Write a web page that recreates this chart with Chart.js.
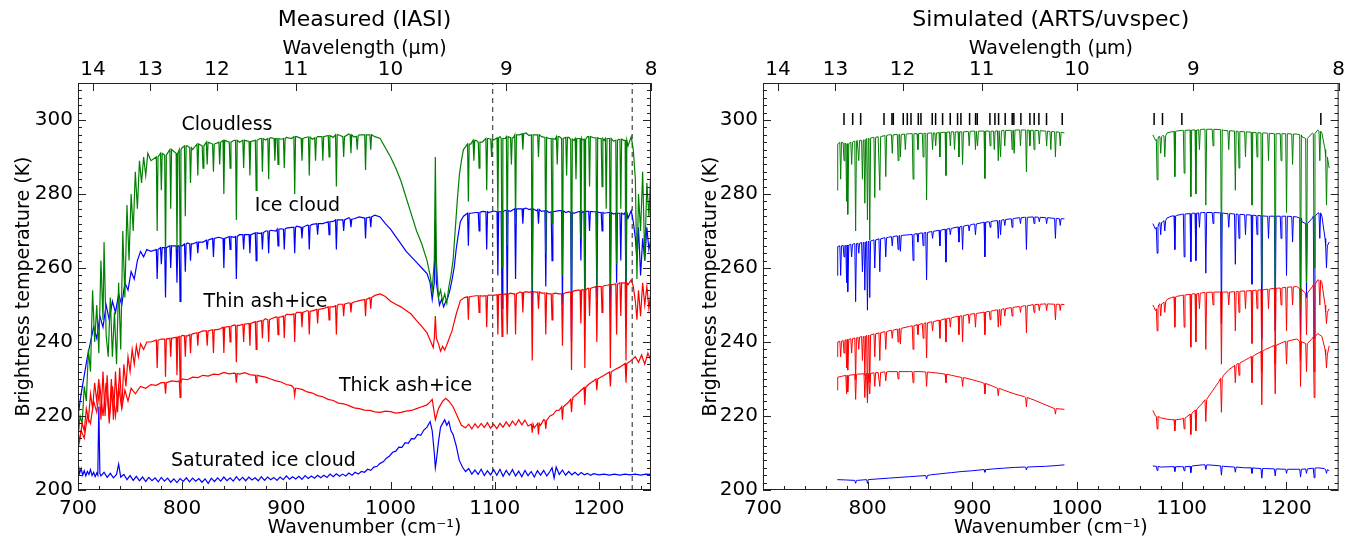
<!DOCTYPE html>
<html>
<head>
<meta charset="utf-8">
<title>Measured vs simulated brightness temperature spectra</title>
<script src="https://cdn.jsdelivr.net/npm/chart.js@4.4.1/dist/chart.umd.min.js"></script>
<style>
  body { margin: 0; background: #fff; }
  #wrap { position: relative; width: 1346px; height: 536px; }
  canvas { position: absolute; top: 0; }
  #leftChart { left: 0; }
  #rightChart { left: 690px; }
</style>
</head>
<body>
<div id="wrap">
  <canvas id="leftChart" width="690" height="536"></canvas>
  <canvas id="rightChart" width="656" height="536"></canvas>
</div>
<script>
// axis ticks
const wavenumberTicks = [700, 800, 900, 1000, 1100, 1200];
const wavelengthTicks = [14, 13, 12, 11, 10, 9, 8];
const temperatureTicks = [200, 220, 240, 260, 280, 300];

// ---------- measured (IASI) ----------
// continuum points [wavenumber, K] and absorption lines [wavenumber, top K, bottom K]
const iasiCloudless = [
  [700,214],[702,220],[704,218],[706,228],[708,224],[710,238],[712,232],[714,254],[716,240],[718,250],[720,237],[722,262],[724,246],[725,267],[727,242],[729,236],[731,252],[733,236],[735,248],[737,234],[739,256],[741,238],[743,270],[745,252],[747,277],[749,262],[751,280],[753,270],[755,286],[757,276],[759,289],[761,283],[763,290],[765,285],[767,291],[770,289],
  [775,290],[780,291.5],[785,290.5],[790,292],[795,291],[800,292.5],[805,293],[810,292],[815,293.5],[820,293],[825,294],[830,293.5],[835,294],[840,294.5],[845,293.8],[850,294.5],[855,294],[860,294.8],[865,294.2],[870,294.5],[875,295],[880,294.6],[885,295.2],[890,295],[895,294.8],[900,295.3],[905,295],[910,295.5],[915,295],[920,295.4],[925,294.8],[930,295.5],[935,295.2],[940,295.8],[945,295.3],[950,296],[955,295.5],[960,296.2],[965,295.4],[970,296],[975,295.8],[980,296.2],[985,295.5],[990,295],[995,292.5],
  [1000,290],[1005,287],[1010,283.5],[1015,279],[1020,274.5],[1025,270],[1030,266.5],[1035,262],[1038,258],[1040,254],[1042,262],[1043,290],[1044,262],[1046,252],[1048,254],[1050,251],[1052,253],[1054,250.5],[1056,255],[1058,258],[1060,262],[1062,270],[1064,278],[1066,285],[1068,289],[1070,292],
  [1077,293.5],[1082,294.5],[1088,294],[1094,295],[1099,294.6],[1105,295.5],[1110,295],[1115,295.5],[1118,295.2],[1124,296],[1130,296.5],[1133,295.8],[1140,296],[1145,295.5],[1152,295],[1158,294.8],[1162,295.5],[1168,295],[1171,295.3],[1176,294.5],[1180,295],[1184,294.6],[1189,295.5],[1195,295.2],[1200,295],[1205,294.5],[1209,295],[1214,294.3],[1219,294.8],[1224,294.5],[1228,293],[1231,295.5],[1233,292],[1235,284],[1236.5,257],[1238,280],[1240,270],[1242,286],[1244,262],[1246,283],[1248,274],[1250,287]
];
const iasiCloudlessLines = [
  [776,290,270],[780,291,281],[784,290.5,262],[789,292,276],[795,291,265],[798,292,266],[803,293,274],[808,292.5,283],[815,293.5,285],[820,293,287],[824,294,288],[830,293.5,286],[836,294,288],[840,294.5,280],[846,294,287],[852,294.5,273],[859,294.5,287],[865,294.2,285],[871,294.5,281],[877,295,286],[883,295,284],[889,295,289],[892,295,288],[898,295,287],[908,295.5,280],[915,295,289],[922,295.4,285],[928,295.2,289],[935,295.5,289],[941,295.8,290],[948,296,282],[955,295.5,290],[962,296,291],[968,295.6,292],[976,296,286.5],[981,296,292],
  [1074.7,293.5,278],[1080,294.5,289],[1085,294,287],[1092.3,295,281],[1097,294.8,290],[1103,295.2,275],[1107,295,260],[1112,295.5,266],[1116,295.2,288],[1120,296,272],[1127,296.3,292],[1136,296,254],[1142,296,290],[1149,295.3,264],[1155,295,272],[1160,295.5,288],[1165,295,258],[1169,295.3,285],[1173.7,294.8,252],[1178,295,284],[1182.7,295,268],[1186.5,294.8,251],[1191,295.5,282],[1198,295.2,255],[1203,295,282],[1207,295,276],[1211,295,255],[1217,294.5,261],[1221,294.8,276],[1226,294.5,250]
];
const iasiIceCloud = [
  [700,220],[703,226],[706,231],[709,236],[712,240],[715,244],[718,241],[721,247],[724,244],[727,250],[730,246],[733,251],[736,248],[739,253],[742,250],[745,256],[748,254],[751,259],[754,257],[757,262],[760,264.5],[763,263],[766,265],[770,264.5],
  [775,265.5],[780,265],[785,266],[790,265.5],[795,266.3],[800,266],[805,266.8],[810,266.5],[815,267.2],[820,267],[825,267.5],[830,267.8],[835,268.3],[840,268],[845,268.5],[850,268.3],[855,269],[860,268.8],[865,269.3],[870,269.5],[875,269.3],[880,270],[885,270.2],[890,270],[895,270.6],[900,270.8],[905,271],[910,271.3],[915,271],[920,271.6],[925,271.8],[930,272.2],[935,272],[940,272.7],[945,272.6],[950,273],[955,273.2],[960,273.6],[965,273.3],[970,273.8],[975,273.6],[980,274],[985,274.3],[990,273.8],[995,272],
  [1000,270.5],[1005,268.5],[1010,266.5],[1015,264.5],[1020,263],[1025,261.5],[1030,260],[1035,258.5],[1038,256],[1040,251.5],[1042,256],[1043,273],[1044,256],[1047,250],[1049,251.5],[1051,249.5],[1053,251],[1055,252],[1057,254],[1059,256.8],[1061,260],[1063,265],[1065,269],[1067,272.5],[1070,274],
  [1077,274.8],[1082,275],[1088,275.3],[1094,275],[1099,275.4],[1105,275.2],[1110,275.6],[1115,275.3],[1118,275.8],[1124,276],[1130,276.2],[1133,275.8],[1140,275.5],[1145,275.3],[1152,275],[1158,275.3],[1162,275.5],[1168,275],[1171,275.3],[1176,274.8],[1180,275.2],[1184,275],[1189,275.3],[1195,275.2],[1200,275],[1205,274.8],[1209,275],[1214,274.6],[1219,274.8],[1224,274.5],[1228,273.5],[1231,275.5],[1233,272.5],[1235,268],[1236.5,262],[1238,271],[1240,258],[1242,268],[1244,262],[1246,271],[1248,265],[1250,268]
];
const iasiIceCloudLines = [
  [776,265,257],[780,265.5,261],[784,265.5,252],[789,266,260],[795,266,256],[798,266,251],[803,266.5,259],[808,266.5,262],[815,267,264],[824,267.5,265],[830,268,263],[840,268,260],[846,268.5,265],[852,268.5,257],[859,269,265],[865,269,264],[871,269.5,262],[877,269.5,265],[883,270,264],[892,270.5,266],[898,270.5,265],[908,271,264],[915,271,268],[922,271.5,265],[930,272,269],[941,272.5,269],[948,273,265],[955,273,270],[962,273.2,271],[976,273.5,268],[981,273.8,271],
  [1074.7,274.8,266],[1085,275,270],[1092.3,275.2,265],[1103,275.2,258],[1107,275.2,249],[1112,275.5,250],[1120,276,257],[1127,276,272],[1136,276,248],[1142,275.8,272],[1149,275.5,255],[1155,275.2,262],[1165,275.5,250],[1173.7,275,240],[1182.7,275.3,262],[1186.5,275.3,246],[1191,275.3,270],[1198,275.2,252],[1203,275,270],[1211,275,247],[1217,274.8,256],[1221,274.8,262],[1226,275,250]
];
const iasiThinAsh = [
  [700,211],[702,214],[704,218],[706,216],[708,222],[710,219],[712,226],[714,222],[716,229],[718,224],[720,230],[722,219],[724,232],[726,220],[728,231],[730,218],[732,230],[734,219],[736,232],[738,221],[740,233],[742,222],[744,234],[746,228],[748,236],[750,232],[752,238],[754,234],[756,239],[758,236],[760,239.5],[763,238],[766,240],[770,240],
  [775,240.5],[780,240.8],[785,240.6],[790,241.2],[795,241],[800,241.8],[805,241.6],[810,242.2],[815,242.3],[820,243],[825,242.8],[830,243.5],[835,243.4],[840,244],[845,244],[850,244.6],[855,244.5],[860,245],[865,245],[870,245.6],[875,245.7],[880,246.3],[885,246.2],[890,246.8],[895,246.8],[900,247.5],[905,247.4],[910,248],[915,247.9],[920,248.5],[925,248.4],[930,249],[935,249],[940,249.6],[945,249.5],[950,250.2],[955,250.3],[960,250.6],[965,250.8],[970,251.2],[975,251.5],[980,252],[985,252.6],[990,253],[995,252.3],
  [1000,251],[1005,250.2],[1010,249.5],[1015,248.5],[1020,247.5],[1025,245.8],[1030,244.2],[1035,242.5],[1038,240.5],[1041,238.5],[1042,241],[1043,247],[1044,241],[1046,239.5],[1048,237.5],[1050,238.8],[1052,237.8],[1055,240],[1059,243],[1063,247.5],[1067,251.2],[1071,252],
  [1077,252.3],[1082,252.5],[1088,252.4],[1094,252.7],[1099,252.6],[1105,252.9],[1110,253],[1115,253.2],[1118,253],[1124,253.5],[1130,253.6],[1133,253.4],[1140,253.5],[1145,253.2],[1152,253],[1158,253.2],[1162,253],[1168,253.3],[1171,253.5],[1176,253.8],[1180,254],[1184,254.2],[1189,254.5],[1195,254.8],[1200,255],[1205,255.2],[1209,255.4],[1214,255.6],[1219,255.8],[1224,256],[1228,255.5],[1231,256.8],[1233,255],[1235,251],[1236.5,246],[1238,254],[1240,247],[1242,256],[1244,250],[1246,255],[1248,249],[1250,254]
];
const iasiThinAshLines = [
  [776,240.5,233],[784,240.8,230.6],[789,241,236],[795,241.3,231],[798,241.5,229],[803,241.7,236],[808,242,237],[815,242.5,239],[824,243,239],[830,243.3,237],[840,244,237],[846,244.2,240],[852,244.5,234.5],[859,244.8,240],[865,245,239],[871,245.5,238],[877,245.8,241],[883,246,240],[892,246.7,242],[898,247,241],[908,247.6,240],[915,248,244],[922,248.3,242],[930,248.8,245],[941,249.5,246],[948,249.8,242],[955,250.2,247],[962,250.5,248],[976,251.5,247],[981,252,249],
  [1074.7,252.2,246],[1085,252.5,248],[1092.3,252.5,244],[1103,252.8,242],[1107,252.8,241.5],[1112,252.9,242],[1120,253,242],[1127,253.4,248],[1136,253.6,235],[1142,253.5,249],[1149,253.2,242],[1155,253,246],[1165,253,239],[1173.7,253.5,232.4],[1182.7,254,245],[1186.5,254,233],[1191,254.5,247],[1198,255,240],[1203,255,248],[1211,255.5,233],[1217,255.7,242],[1221,256,247],[1226,256,235]
];
const iasiThickAsh = [
  [700,212],[703,216],[706,214],[709,220],[712,218],[715,224],[718,221],[721,228],[724,220],[727,229],[730,219],[733,228],[736,220],[739,228],[742,222],[745,227],[748,224],[751,227.5],[755,226],[760,228],[765,227.5],[770,228.5],
  [775,228.3],[780,229],[785,228.8],[790,229.5],[795,229.3],[800,230],[805,229.8],[810,230.5],[815,230.4],[820,231],[825,230.8],[830,231.3],[835,231.2],[840,231.8],[845,231.4],[850,231.6],[855,231.3],[860,231.7],[865,231.2],[870,231],[875,230.8],[880,230.5],[885,230],[890,229.5],[895,229.2],[900,228.5],[905,228.2],[910,227.5],[915,227.2],[920,226.5],[925,226.2],[930,225.5],[935,225.2],[940,224.5],[945,224.2],[950,223.5],[955,223.3],[960,222.8],[965,222.2],[970,222],[975,221.6],[980,221.5],[985,221.1],[990,221],[995,221.3],
  [1000,221.2],[1005,220.8],[1010,221],[1015,221.3],[1020,221.5],[1025,222],[1030,222.5],[1035,223],[1038,223.8],[1040,224.5],[1043,219],[1046,222],[1050,224],[1053,224.8],[1056,224],[1060,222.5],[1064,220],[1068,217.5],
  [1072,216.8],[1075,217.8],[1078,216.5],[1081,217.9],[1084,216.8],[1087,218],[1090,216.9],[1093,218.2],[1096,216.7],[1099,217.8],[1102,216.6],[1105,218],[1108,217],[1111,218.4],[1114,217.2],[1117,218.6],[1120,217.5],[1123,219],[1126,217.6],[1129,218.9],[1132,217.3],[1135,218.4],[1138,216.8],[1141,218.2],[1144,217.5],[1147,219],[1150,218.6],[1153,220],[1156,220.4],[1159,221.5],[1162,221.6],
  [1166,222.8],[1170,223.5],[1175,225],[1180,226.2],[1185,227.5],[1190,228.5],[1195,229.5],[1200,230.2],[1205,231],[1210,231.8],[1215,232.5],[1220,233.2],[1225,234],[1231,235],[1235,236],[1238,234.5],[1241,236.5],[1244,234],[1247,237],[1250,235]
];
const iasiThickAshLines = [
  [784,229,226],[798,229.5,225],[852,231.5,229],[871,231,229],[908,227.5,225.5],
  [1136,217.8,215.5],[1142,218,215],[1149,218.8,216.5],[1165,222.5,219],[1173.7,224.5,221],[1186.5,227.7,223],[1198,230,227],[1211,231.9,228],[1226,234.2,229]
];
const iasiSaturated = [
  [700,207.5],[701.5,204.5],[703,205.8],[704.5,204],[706,205.2],[707.5,203.8],[709,205],[710.5,204.2],[712,205.5],[713.5,203.9],[715,204.8],[716.5,203.6],[718,204.6],[719,204],[720,222.5],[721,204.5],
  [722,203.8],[725,204.8],[728,203.4],[731,204.5],[734,203.3],[737,204.2],[739,207],[741,203.5],[744,204.2],[747,202.8],[750,203.9],[753,202.6],[756,203.7],[759,202.5],[762,203.5],[765,202.3],[768,203.4],[771,202.5],[774,203.3],[777,202.2],[780,203.4],[783,202.4],[786,203.2],[789,202.1],[792,203],[795,202],[798,203.1],
  [801,202.3],[804,203.3],[807,202.2],[810,203.2],[813,202.4],[816,203.1],[819,202.1],[822,203],[825,201.8],[828,203.2],[831,202.3],[834,203.3],[837,202.4],[840,203.5],[843,202.5],[846,203.3],[849,202.4],[852,203.6],[855,202.6],[858,203.4],[861,202.5],[864,203.5],[867,202.7],[870,203.3],[873,202.5],[876,203.6],[879,202.6],[882,203.5],[885,202.8],[888,203.4],[891,202.6],[894,203.5],[897,202.8],
  [900,203.8],[903,202.9],[906,203.6],[909,203],[912,203.7],[915,202.9],[918,203.9],[921,203.1],[924,203.8],[927,203.2],[930,204],[933,203.3],[936,204],[939,203.4],[942,204.3],[945,203.6],[948,204.4],[951,203.7],[954,204.3],[957,203.8],[960,204.6],[963,204],[966,204.8],[969,204.3],[972,205],[975,204.8],[978,205.6],[981,205.3],[984,206.2],[987,206.4],[990,207.2],[993,207.6],[996,208.6],[999,209.2],
  [1002,210.2],[1005,210.5],[1008,211.6],[1011,211.5],[1014,212.8],[1017,212.6],[1020,213.9],[1023,213.8],[1026,215],[1029,214.8],[1032,216.2],[1035,217],[1038,218.5],[1040,216],[1042,210],[1043,206],[1044,208],[1046,213],[1048,217],[1050,218],[1052,219],[1054,217.5],[1056,218.5],[1058,216],[1060,215],[1063,212],[1066,208],[1069,206.2],
  [1072,205],[1075,205.8],[1078,204.3],[1081,205.4],[1084,204.2],[1087,205.6],[1090,203.9],[1093,205.2],[1096,204.1],[1099,205.5],[1102,204],[1105,205.6],[1108,203.7],[1111,205.3],[1114,204],[1117,205.5],[1120,203.8],[1123,205.1],[1126,203.6],[1129,205.3],[1132,203.9],[1135,205],[1138,203.5],[1141,205.2],[1144,204],[1147,205.3],[1150,203.8],[1153,205],[1155,206],[1157,203.2],[1159,206.2],
  [1162,204.2],[1165,205.4],[1168,204],[1171,205],[1174,204.1],[1177,204.8],[1180,204],[1183,204.7],[1186,204.1],[1189,204.5],[1192,204],[1195,204.4],[1200,204.1],[1205,204.3],[1210,204],[1215,204.3],[1220,204],[1225,204.3],[1230,204.1],[1235,204.3],[1240,204],[1245,204.3],[1250,204.2]
];
const iasiChannelMarks = [1098, 1232];

// ---------- simulated (ARTS/uvspec) ----------
const artsCloudless = [
  [771,281],[771.4,293.5],[775,294],[780,293.5],[785,294],[790,294.5],[795,294.5],[800,295],[805,295.3],[810,295.5],[820,296],[830,296.2],[840,296.3],[850,296.4],[860,296.5],[870,296.7],[880,296.8],[890,296.8],[900,297],[910,297],[920,297],[930,297.2],[940,297.3],[950,297.3],[960,297.2],[970,297],[980,296.8],[988,296.5],
  [1030,null],
  [1072.5,296],[1075,294.5],[1078,295.5],[1082,295.8],[1086,296.5],[1090,296.8],[1095,297],[1100,297.2],[1110,297.3],[1120,297.5],[1130,297.5],[1140,297.2],[1150,297],[1160,296.8],[1170,296.6],[1180,296.5],[1190,296.3],[1200,296.3],[1210,296.2],[1215,295.5],[1220,295],[1225,296.5],[1230,297.3],[1234,296.5],[1237,292],[1239,283],[1241,287]
];
const artsCloudlessLines = [
  [774.2,294,284],[777.4,293.8,289],[779.9,293.6,278],[781.2,293.6,274.5],[784.7,294,288],[788.5,294.3,270],[791.5,294.5,289],[795,294.5,284],[797.3,294.7,277.5],[799.8,295,273],[802,295.1,267.5],[806.8,295.3,279],[811.6,295.5,281],[817.3,295.8,284.7],[823.5,296,291],[829.1,296.1,289],[831.3,296.1,290],[836,296.2,292],[843.4,296.3,284],[848,296.3,292],[853,296.4,290],[856.3,296.4,278.4],[862,296.5,292],[865,296.5,293],[869,296.6,290],[874.8,296.7,285],[879,296.8,293],[883,296.8,292],[887.2,296.8,290],[890.7,296.8,288],[897,296.9,293],[903,297,292],[905,297,293],[912,297,284.2],[917,297,293],[921,297,292],[924.8,297.1,289],[927,297.1,290],[931,297.2,293],[938,297.2,292],[940,297.3,291],[946,297.3,293],[951.7,297.3,286],[955,297.2,293],[959,297.2,292],[964,297.1,293.5],[971,297,293],[975,296.9,292],[979.4,296.8,290],[984,296.7,293],
  [1076.6,294.8,283.8],[1080,295.5,291],[1083.9,295.7,290],[1093.5,296.9,284.7],[1102.4,297.2,285.6],[1108.8,297.3,279.3],[1113.6,297.3,280],[1117,297.4,292],[1123.1,297.5,277],[1130,297.5,293],[1138,297.4,262],[1145,297.1,292],[1151.3,297,281],[1154.8,296.9,287],[1161,296.8,290],[1167.2,296.7,277],[1172,296.6,290],[1176.6,296.5,256],[1183,296.4,289],[1189.4,296.3,250],[1195,296.3,289],[1200.2,296.3,275],[1206,296.2,288],[1213.6,296,249],[1219.3,295,256],[1226.6,296.3,260],[1232,297,289],[1238.4,290,277]
];
const artsIceCloud = [
  [771,258],[771.4,265.8],[775,266],[780,266.2],[785,266.4],[790,266.6],[795,266.9],[800,267.2],[805,267.5],[810,267.8],[820,268.3],[830,268.7],[840,269],[850,269.4],[860,269.8],[870,270.3],[880,270.8],[890,271.3],[900,271.8],[910,272.3],[920,272.7],[930,273.1],[940,273.4],[950,273.7],[960,273.8],[970,273.6],[980,273.4],[988,273.3],
  [1030,null],
  [1072.5,272],[1075,270.5],[1078,272],[1082,272.5],[1086,273.5],[1090,274],[1095,274.2],[1100,274.5],[1110,274.8],[1120,275],[1130,275],[1140,274.8],[1150,274.6],[1160,274.4],[1170,274.2],[1180,274],[1190,274],[1200,274],[1210,273.8],[1215,272.5],[1220,272],[1225,273.5],[1230,274.8],[1234,274],[1237,268],[1239,262],[1241,267]
];
const artsIceCloudLines = [
  [774.2,266,258],[777.4,266.1,263],[779.9,266.1,256],[781.2,266.2,253.6],[784.7,266.4,263],[788.5,266.6,250.9],[791.5,266.7,264],[795,266.9,259],[797.3,267,254],[799.8,267.2,248.6],[802,267.3,252],[806.8,267.6,260],[811.6,267.9,259],[817.3,268.2,263],[823.5,268.5,266],[829.1,268.7,265],[831.3,268.8,264.5],[843.4,269.1,262],[848,269.3,267],[853,269.5,266],[856.3,269.6,256.8],[862,269.9,268],[869,270.2,266],[874.8,270.5,261.6],[879,270.7,269],[887.2,271.1,267],[890.7,271.3,265],[897,271.6,270],[903,271.9,269],[912,272.4,263],[917,272.5,271],[924.8,272.8,268],[927,272.9,269],[931,273.1,271.5],[938,273.3,271],[946,273.6,272],[951.7,273.7,265],[959,273.8,272],[964,273.7,272.5],[971,273.6,272],[979.4,273.4,268],[984,273.3,271.5],
  [1076.6,271,264],[1080,272.3,269],[1083.9,272.8,270],[1093.5,274.1,265],[1102.4,274.6,263],[1108.8,274.7,261.7],[1113.6,274.8,262],[1117,274.9,271],[1123.1,275,258.6],[1130,275,272],[1138,274.9,245],[1145,274.7,271],[1151.3,274.6,261],[1154.8,274.5,268],[1161,274.4,269],[1167.2,274.3,255.6],[1172,274.2,269],[1176.6,274.1,241],[1183,274,268],[1189.4,274,243],[1195,274,268],[1200.2,274,258],[1206,273.9,267],[1213.6,273.5,242],[1219.3,272,252],[1226.6,274,241],[1232,274.9,268],[1238.4,266,260]
];
const artsThinAsh = [
  [771,236],[771.4,240],[775,240.3],[780,240.6],[785,240.9],[790,241.2],[795,241.5],[800,241.8],[805,242.1],[810,242.4],[820,243],[830,243.6],[840,244.2],[850,244.8],[860,245.4],[870,246],[880,246.6],[890,247.1],[900,247.6],[910,248],[920,248.5],[930,249],[940,249.4],[950,249.8],[960,250.1],[970,250.3],[980,250.2],[988,250.1],
  [1030,null],
  [1072.5,250],[1075,248.5],[1078,250],[1082,250.5],[1086,251.5],[1090,252],[1095,252.3],[1100,252.6],[1110,253],[1120,253.3],[1130,253.5],[1140,253.5],[1150,253.6],[1160,253.8],[1170,254],[1180,254.2],[1190,254.5],[1200,254.8],[1210,255],[1215,254],[1220,253],[1225,255],[1230,256.8],[1234,256],[1237,250],[1239,244],[1241,249]
];
const artsThinAshLines = [
  [774.2,240.2,236],[777.4,240.4,237],[779.9,240.6,233],[781.2,240.7,232.4],[784.7,240.9,237],[788.5,241.1,229.7],[791.5,241.3,238],[795,241.5,235],[797.3,241.6,231],[799.8,241.8,224.5],[802,241.9,229],[806.8,242.2,236],[811.6,242.5,235],[817.3,242.8,238],[823.5,243.2,241],[829.1,243.5,240],[831.3,243.7,239.5],[843.4,244.4,238],[848,244.7,242],[853,245,241],[856.3,245.2,235.7],[862,245.5,243],[869,245.9,241],[874.8,246.3,240],[879,246.5,244],[887.2,247,242],[890.7,247.1,240],[897,247.5,245],[903,247.7,244],[912,248.1,242],[917,248.3,246],[924.8,248.7,244],[927,248.8,244.5],[931,249,247],[938,249.3,247],[946,249.6,248],[951.7,249.8,242.5],[959,250.1,248],[964,250.2,248.5],[971,250.3,248.5],[979.4,250.2,246],[984,250.2,248.5],
  [1076.6,249,243],[1080,250.3,247],[1083.9,250.8,248],[1093.5,252.2,244],[1102.4,252.7,244],[1108.8,252.9,238.6],[1113.6,253,240],[1117,253.2,249],[1123.1,253.4,238],[1130,253.5,250],[1138,253.5,234],[1145,253.5,250],[1151.3,253.6,243],[1154.8,253.7,248],[1161,253.8,249],[1167.2,253.9,239.6],[1172,254,249],[1176.6,254.1,232],[1183,254.3,249],[1189.4,254.5,234],[1195,254.6,250],[1200.2,254.8,243],[1206,254.9,250],[1213.6,254.4,235],[1219.3,253.2,242],[1226.6,255.5,232],[1232,256.7,250],[1238.4,248,245]
];
const artsThickAsh = [
  [771,227],[771.4,230.5],[775,230.7],[780,231],[790,231.3],[800,231.5],[810,231.8],[820,232],[830,232],[840,232],[850,232],[860,231.8],[870,231.5],[880,231],[890,230.5],[900,229.8],[910,229],[920,228],[930,227],[940,226],[950,225.2],[960,224.2],[970,223],[980,222],[988,221.8],
  [1030,null],
  [1072.5,221.5],[1075,220],[1080,219.5],[1085,219.2],[1090,219],[1095,219],[1100,219.2],[1105,219.8],[1110,220.8],[1115,222],[1120,223.5],[1125,225],[1130,227],[1135,229],[1140,231],[1145,232.5],[1150,233.5],[1155,234.3],[1160,235],[1165,235.8],[1170,236.5],[1175,237.3],[1180,238],[1185,238.6],[1190,239.2],[1195,239.7],[1200,240.2],[1205,240.5],[1210,240.8],[1215,240],[1220,239.5],[1225,241],[1230,242.3],[1234,241.5],[1237,238],[1239,236],[1241,239]
];
const artsThickAshLines = [
  [779.9,231,226],[781.2,231,226.5],[788.5,231.2,224.5],[797.3,231.4,225],[799.8,231.5,223.5],[802,231.5,226],[806.8,231.7,228],[811.6,231.8,228],[817.3,231.9,229.5],[829.1,232,230],[843.4,232,229],[856.3,231.9,228],[874.8,231.3,229],[890.7,230.4,228],[912,228.8,226],[924.8,227.5,225.5],[951.7,225,222.5],[979.4,222,220.5],
  [1076.6,219.9,216.5],[1093.5,219,216],[1102.4,219.4,216.5],[1108.8,220.5,215],[1113.6,221.6,216],[1123.1,224.4,218.5],[1138,230.2,221],[1151.3,233.7,229],[1154.8,234.3,231],[1167.2,236.1,229],[1176.6,237.5,223],[1189.4,239.1,226],[1200.2,240.2,234],[1213.6,240.2,228],[1219.3,239.6,232],[1226.6,241.4,225],[1238.4,236.5,233]
];
const artsSaturated = [
  [771,202.8],[780,202.7],[790,202.6],[800,202.8],[810,203],[820,203.2],[830,203.4],[840,203.6],[850,203.8],[860,204.1],[870,204.4],[880,204.7],[890,205],[900,205.2],[910,205.5],[920,205.7],[930,205.9],[940,206.1],[950,206.2],[960,206.3],[970,206.4],[980,206.6],[988,206.8],
  [1030,null],
  [1072.5,206.5],[1080,206.2],[1090,206.3],[1100,206.3],[1110,206.5],[1120,206.8],[1130,206.7],[1140,206.4],[1150,206.2],[1160,206],[1170,205.9],[1180,205.8],[1190,205.7],[1200,205.6],[1210,205.6],[1220,205.8],[1230,206],[1236,205.8],[1241,205.2]
];
const artsSaturatedLines = [
  [788.5,202.6,201.8],[799.8,202.8,201.8],[856.3,203.9,203],[912,205.5,204.8],[951.7,206.2,205.4],
  [1076.6,206.4,205.3],[1093.5,206.3,205],[1102.4,206.3,205.2],[1108.8,206.4,204.7],[1123.1,206.8,205.5],[1138,206.5,204],[1151.3,206.2,204.8],[1167.2,206,204.5],[1176.6,205.8,203.2],[1189.4,205.7,203.8],[1200.2,205.6,204.5],[1213.6,205.6,203.5],[1219.3,205.7,204.5],[1226.6,205.9,203.3],[1238.4,205.5,204.5]
];
// wavenumbers of the lines marked above the simulated spectra
const artsLineMarks = [777.4, 785.7, 793.3, 815.6, 823.2, 824.5, 834, 837.9, 841.4, 848.4, 850.9, 861.7, 864.9, 871.6, 878.9, 885.9, 889.1, 897.4, 903.1, 904.7, 916.8, 921.6, 925.1, 931.4, 938.1, 939.7, 946.4, 955, 959.1, 963.6, 970.9, 985.9, 1073.7, 1081.7, 1100.2, 1233];
const artsLineMarkLevel = 300.3;

// merge continuum and narrow absorption lines into one sorted point list
function spectrum(base, lines) {
  const pts = base
    .filter(([x]) => !lines.some(([lx]) => Math.abs(lx - x) < 1.2))
    .map(([x, y]) => ({ x, y }));
  lines.forEach(([x, top, bottom]) => {
    pts.push({ x: x - 0.8, y: top }, { x, y: bottom }, { x: x + 0.8, y: top });
  });
  return pts.sort((a, b) => a.x - b.x);
}

const GREEN = '#008000', BLUE = '#0000ff', RED = '#ff0000';

function curve(data, color, width) {
  return { data, borderColor: color, borderWidth: width || 1, pointRadius: 0, tension: 0, fill: false };
}

// axis frame with inward ticks, matplotlib style
const framePlugin = {
  id: 'frame',
  afterDatasetsDraw(chart) {
    const { ctx, chartArea: a, scales } = chart;
    const tick = (x1, y1, x2, y2) => {
      ctx.beginPath(); ctx.moveTo(x1, y1); ctx.lineTo(x2, y2); ctx.stroke();
    };
    ctx.save();
    ctx.strokeStyle = '#222';
    ctx.lineWidth = 1;
    ctx.strokeRect(a.left + 0.5, a.top + 0.5, a.right - a.left - 1, a.bottom - a.top - 1);
    for (let v = 700; v <= 1250; v += 20) {
      const x = Math.round(scales.x.getPixelForValue(v)) + 0.5;
      tick(x, a.bottom, x, a.bottom - (v % 100 === 0 ? 8 : 4));
    }
    wavelengthTicks.forEach(w => {
      const x = Math.round(scales.x.getPixelForValue(10000 / w)) + 0.5;
      tick(x, a.top, x, a.top + 8);
    });
    for (let v = 200; v <= 310; v += 2) {
      const y = Math.round(scales.y.getPixelForValue(v)) + 0.5;
      const len = v % 20 === 0 ? 8 : 4;
      tick(a.left, y, a.left + len, y);
      tick(a.right, y, a.right - len, y);
    }
    ctx.restore();
  }
};

// text labels placed in data coordinates
const notesPlugin = {
  id: 'notes',
  afterDatasetsDraw(chart, args, opts) {
    if (!opts.items) return;
    const { ctx, scales } = chart;
    ctx.save();
    ctx.font = '19px "DejaVu Sans"';
    ctx.fillStyle = '#000';
    ctx.textAlign = 'center';
    ctx.textBaseline = 'middle';
    opts.items.forEach(n => ctx.fillText(n.text, scales.x.getPixelForValue(n.x), scales.y.getPixelForValue(n.y)));
    ctx.restore();
  }
};

Chart.defaults.font.family = '"DejaVu Sans"';
Chart.defaults.color = '#000';

function makeChart(id, title, yWidth, padRight, yTitlePad, datasets, notes) {
  const noGrid = { display: false, drawTicks: false };
  return new Chart(document.getElementById(id), {
    type: 'line',
    data: { datasets },
    options: {
      responsive: false,
      animation: false,
      events: [],
      layout: { padding: { left: 0, right: padRight, top: 0, bottom: 0 }, autoPadding: false },
      plugins: {
        legend: { display: false },
        tooltip: { enabled: false },
        title: {
          display: true, text: title, fullSize: false, color: '#000',
          font: { size: 22, weight: 'normal' }, padding: { top: 7, bottom: 2 }
        },
        notes: { items: notes }
      },
      scales: {
        x: {
          type: 'linear', position: 'bottom', min: 700, max: 1250,
          grid: noGrid, border: { display: false },
          afterBuildTicks: s => { s.ticks = wavenumberTicks.map(v => ({ value: v })); },
          afterFit: s => { s.height = 46; },
          ticks: { autoSkip: false, maxRotation: 0, padding: 7, font: { size: 20 }, callback: v => String(v) },
          title: { display: true, text: 'Wavenumber (cm⁻¹)', font: { size: 19 }, padding: { top: 0, bottom: -3 } }
        },
        x2: {
          type: 'linear', position: 'top', min: 700, max: 1250,
          grid: noGrid, border: { display: false },
          afterBuildTicks: s => { s.ticks = wavelengthTicks.map(w => ({ value: 10000 / w })); },
          afterFit: s => { s.height = 47.6; },
          ticks: { autoSkip: false, maxRotation: 0, padding: 1, font: { size: 20 },
                   callback: v => String(Math.round(10000 / v)) },
          title: { display: true, text: 'Wavelength (μm)', font: { size: 19 }, padding: { top: 2, bottom: 0 } }
        },
        y: {
          type: 'linear', min: 200, max: 310,
          grid: noGrid, border: { display: false },
          afterBuildTicks: s => { s.ticks = temperatureTicks.map(v => ({ value: v })); },
          afterFit: s => { s.width = yWidth; },
          ticks: { padding: 5, font: { size: 20 }, callback: v => String(v) },
          title: { display: true, text: 'Brightness temperature (K)', font: { size: 19 }, padding: { top: yTitlePad, bottom: 0 } }
        }
      }
    },
    plugins: [framePlugin, notesPlugin]
  });
}

// left: measured
const dashed = x => ({
  data: [{ x, y: 200 }, { x, y: 310 }], borderColor: '#555', borderWidth: 1.3,
  borderDash: [5, 4], pointRadius: 0, fill: false
});
makeChart('leftChart', 'Measured (IASI)', 78, 39, 13, [
  curve(spectrum(iasiSaturated, []), BLUE, 1.2),
  curve(spectrum(iasiThickAsh, iasiThickAshLines), RED, 1.2),
  curve(spectrum(iasiThinAsh, iasiThinAshLines), RED, 1.2),
  curve(spectrum(iasiCloudless, iasiCloudlessLines), GREEN, 1.2),
  curve(spectrum(iasiIceCloud, iasiIceCloudLines), BLUE, 1.2),
  ...iasiChannelMarks.map(dashed)
], [
  { text: 'Cloudless', x: 843, y: 298.6 },
  { text: 'Ice cloud', x: 910.6, y: 276.8 },
  { text: 'Thin ash+ice', x: 880, y: 250.8 },
  { text: 'Thick ash+ice', x: 1014.4, y: 228.1 },
  { text: 'Saturated ice cloud', x: 878, y: 207.8 }
]);

// right: simulated
makeChart('rightChart', 'Simulated (ARTS/uvspec)', 73, 7, 10, [
  {
    data: artsLineMarks.map(x => ({ x, y: artsLineMarkLevel })), showLine: false,
    pointStyle: 'line', pointRotation: 90, pointRadius: 6,
    pointBorderColor: '#000', pointBorderWidth: 1.5, borderColor: '#000'
  },
  curve(spectrum(artsSaturated, artsSaturatedLines), BLUE),
  curve(spectrum(artsThickAsh, artsThickAshLines), RED),
  curve(spectrum(artsThinAsh, artsThinAshLines), RED),
  curve(spectrum(artsCloudless, artsCloudlessLines), GREEN),
  curve(spectrum(artsIceCloud, artsIceCloudLines), BLUE)
], []);
</script>
</body>
</html>
